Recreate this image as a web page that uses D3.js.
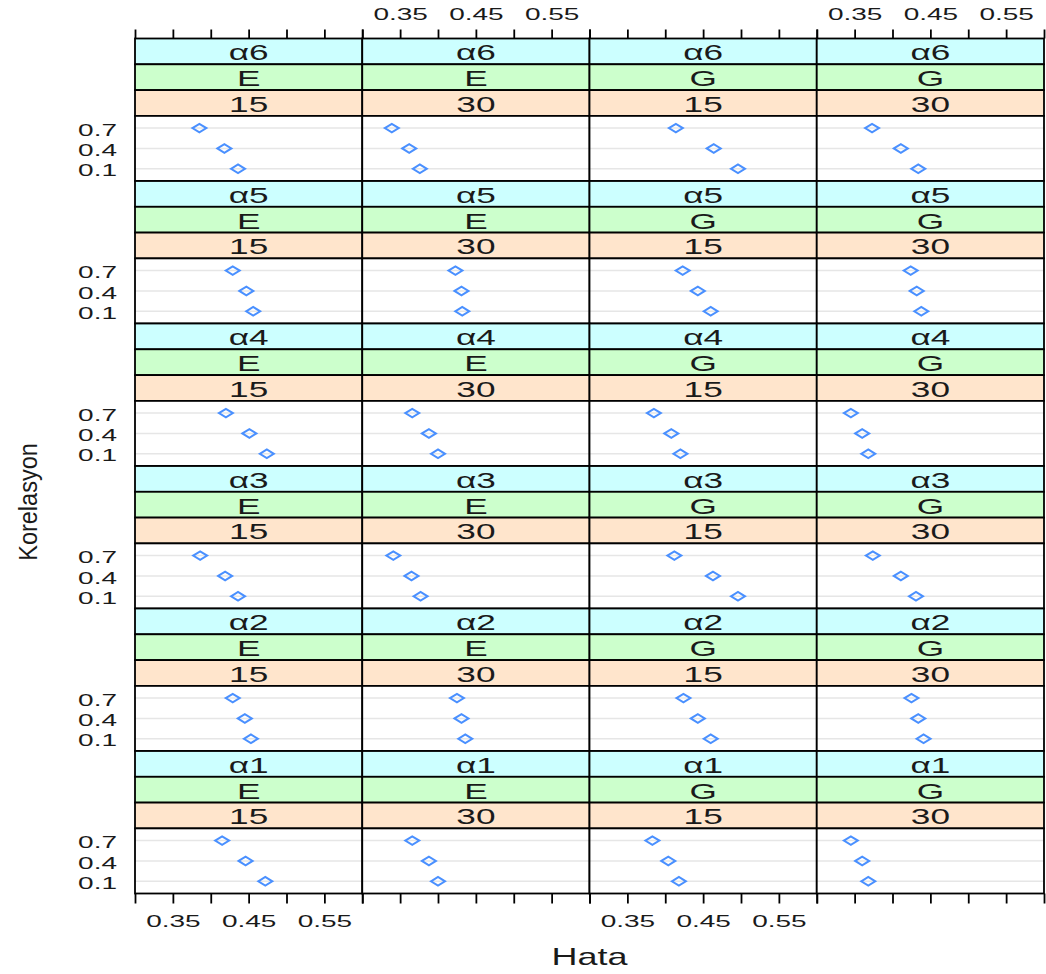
<!DOCTYPE html>
<html>
<head>
<meta charset="utf-8">
<script src="https://cdn.jsdelivr.net/npm/d3@7"></script>
<style>
  body { margin: 0; background: #fff; }
  text { font-family: "Liberation Sans", Arial, sans-serif; fill: #1a1a1a; }
</style>
</head>
<body>
<svg id="chart" width="1046" height="974"></svg>
<script>
// strip labels
const alphas = ['α6', 'α5', 'α4', 'α3', 'α2', 'α1']
const dists = ['E', 'E', 'G', 'G']
const sizes = ['15', '30', '15', '30']
const levels = ['0.7', '0.4', '0.1']
const xTicks = [0.30, 0.35, 0.40, 0.45, 0.50, 0.55, 0.60]
const xLabels = [0.35, 0.45, 0.55]

// Hata per column (E15, E30, G15, G30), values for Korelasyon 0.7, 0.4, 0.1
const hataA6 = [[0.385, 0.418, 0.436], [0.339, 0.362, 0.376], [0.414, 0.464, 0.496], [0.373, 0.411, 0.434]]
const hataA5 = [[0.429, 0.447, 0.456], [0.423, 0.431, 0.432], [0.423, 0.443, 0.460], [0.424, 0.432, 0.438]]
const hataA4 = [[0.420, 0.451, 0.474], [0.366, 0.388, 0.400], [0.385, 0.408, 0.420], [0.345, 0.360, 0.368]]
const hataA3 = [[0.386, 0.419, 0.436], [0.341, 0.365, 0.377], [0.412, 0.463, 0.496], [0.374, 0.411, 0.431]]
const hataA2 = [[0.429, 0.445, 0.453], [0.425, 0.431, 0.436], [0.424, 0.443, 0.460], [0.425, 0.434, 0.441]]
const hataA1 = [[0.415, 0.446, 0.472], [0.366, 0.388, 0.400], [0.383, 0.404, 0.418], [0.345, 0.360, 0.368]]
const hataRows = [hataA6, hataA5, hataA4, hataA3, hataA2, hataA1]

const stripFills = ['#ccffff', '#ccffcc', '#ffe5cc']
const gLeft = 135, gRight = 1044, gTop = 38.5, gBottom = 893.5
const colW = (gRight - gLeft) / 4
const rowH = (gBottom - gTop) / 6
const stripH = 25.8
const panelH = rowH - 3 * stripH
const sx = 1.75

const svg = d3.select('#chart')

const x = d3.scaleLinear().domain([0.30, 0.60]).range([0, colW])
const y = d3.scalePoint().domain(levels).range([0, panelH]).padding(0.6)

const fmt = d3.format('.2f')

hataRows.forEach((row, r) => {
  row.forEach((vals, c) => {
    const g = svg.append('g')
      .attr('transform', `translate(${gLeft + c * colW},${gTop + r * rowH})`)

    // strips
    const strips = [alphas[r], dists[c], sizes[c]]
    strips.forEach((s, k) => {
      g.append('rect')
        .attr('x', 0).attr('y', k * stripH)
        .attr('width', colW).attr('height', stripH)
        .attr('fill', stripFills[k])
        .attr('stroke', '#000').attr('stroke-width', 1.8)
      g.append('text')
        .attr('transform', `translate(${colW / 2},${(k + 1) * stripH - 4}) scale(1.6,1)`)
        .attr('text-anchor', 'middle')
        .attr('font-size', 22)
        .text(s)
    })

    const p = g.append('g').attr('transform', `translate(0,${3 * stripH})`)
    p.append('rect')
      .attr('width', colW).attr('height', panelH)
      .attr('fill', '#fff')

    p.selectAll('line.grid')
      .data(levels)
      .enter().append('line')
        .attr('class', 'grid')
        .attr('x1', 0).attr('x2', colW)
        .attr('y1', (d) => y(d)).attr('y2', (d) => y(d))
        .attr('stroke', '#e6e6e6').attr('stroke-width', 1.5)

    p.selectAll('path.pt')
      .data(vals)
      .enter().append('path')
        .attr('class', 'pt')
        .attr('transform', (d, i) => `translate(${x(d)},${y(levels[i])})`)
        .attr('d', 'M-7,0L0,-4.3L7,0L0,4.3Z')
        .attr('fill', 'none')
        .attr('stroke', '#4a90ff').attr('stroke-width', 2)

    p.append('rect')
      .attr('width', colW).attr('height', panelH)
      .attr('fill', 'none')
      .attr('stroke', '#000').attr('stroke-width', 1.8)

    // y labels on first column
    if (c === 0) {
      const ay = p.append('g')
        .call(d3.axisLeft(y).tickSize(0))
      ay.select('.domain').remove()
      ay.selectAll('text')
        .attr('x', 0).attr('dy', '0.45em')
        .attr('transform', 'translate(-18,0) scale(1.75,1)')
        .attr('font-size', 16)
        .attr('font-family', null)
        .attr('fill', null)
    }
  })
})

// x axes, ticks top and bottom, labels alternate
for (let c = 0; c < 4; c++) {
  const showBottom = c % 2 === 0
  const axT = svg.append('g')
    .attr('transform', `translate(${gLeft + c * colW},${gTop})`)
    .call(d3.axisTop(x).tickValues(xTicks).tickSize(9)
      .tickFormat((d) => (!showBottom && xLabels.some((v) => Math.abs(v - d) < 1e-9)) ? fmt(d) : ''))
  const axB = svg.append('g')
    .attr('transform', `translate(${gLeft + c * colW},${gBottom})`)
    .call(d3.axisBottom(x).tickValues(xTicks).tickSize(10)
      .tickFormat((d) => (showBottom && xLabels.some((v) => Math.abs(v - d) < 1e-9)) ? fmt(d) : ''))
  ;[axT, axB].forEach((ax) => {
    ax.select('.domain').remove()
    ax.selectAll('line').attr('stroke', '#000').attr('stroke-width', 1.8)
    ax.selectAll('text')
      .attr('font-size', 16).attr('font-family', null).attr('fill', null)
  })
  axT.selectAll('text').attr('y', 0).attr('dy', 0)
    .attr('transform', `translate(0,${20 - gTop}) scale(${sx},1)`)
  axB.selectAll('text').attr('y', 0).attr('dy', 0)
    .attr('transform', `translate(0,${927 - gBottom}) scale(${sx},1)`)
}

svg.append('text')
  .attr('transform', `translate(${(gLeft + gRight) / 2},965) scale(1.5,1)`)
  .attr('text-anchor', 'middle')
  .attr('font-size', 24)
  .text('Hata')

svg.append('text')
  .attr('transform', 'translate(37,502) rotate(-90) scale(1,1.12)')
  .attr('text-anchor', 'middle')
  .attr('font-size', 23.5)
  .text('Korelasyon')
</script>
</body>
</html>
